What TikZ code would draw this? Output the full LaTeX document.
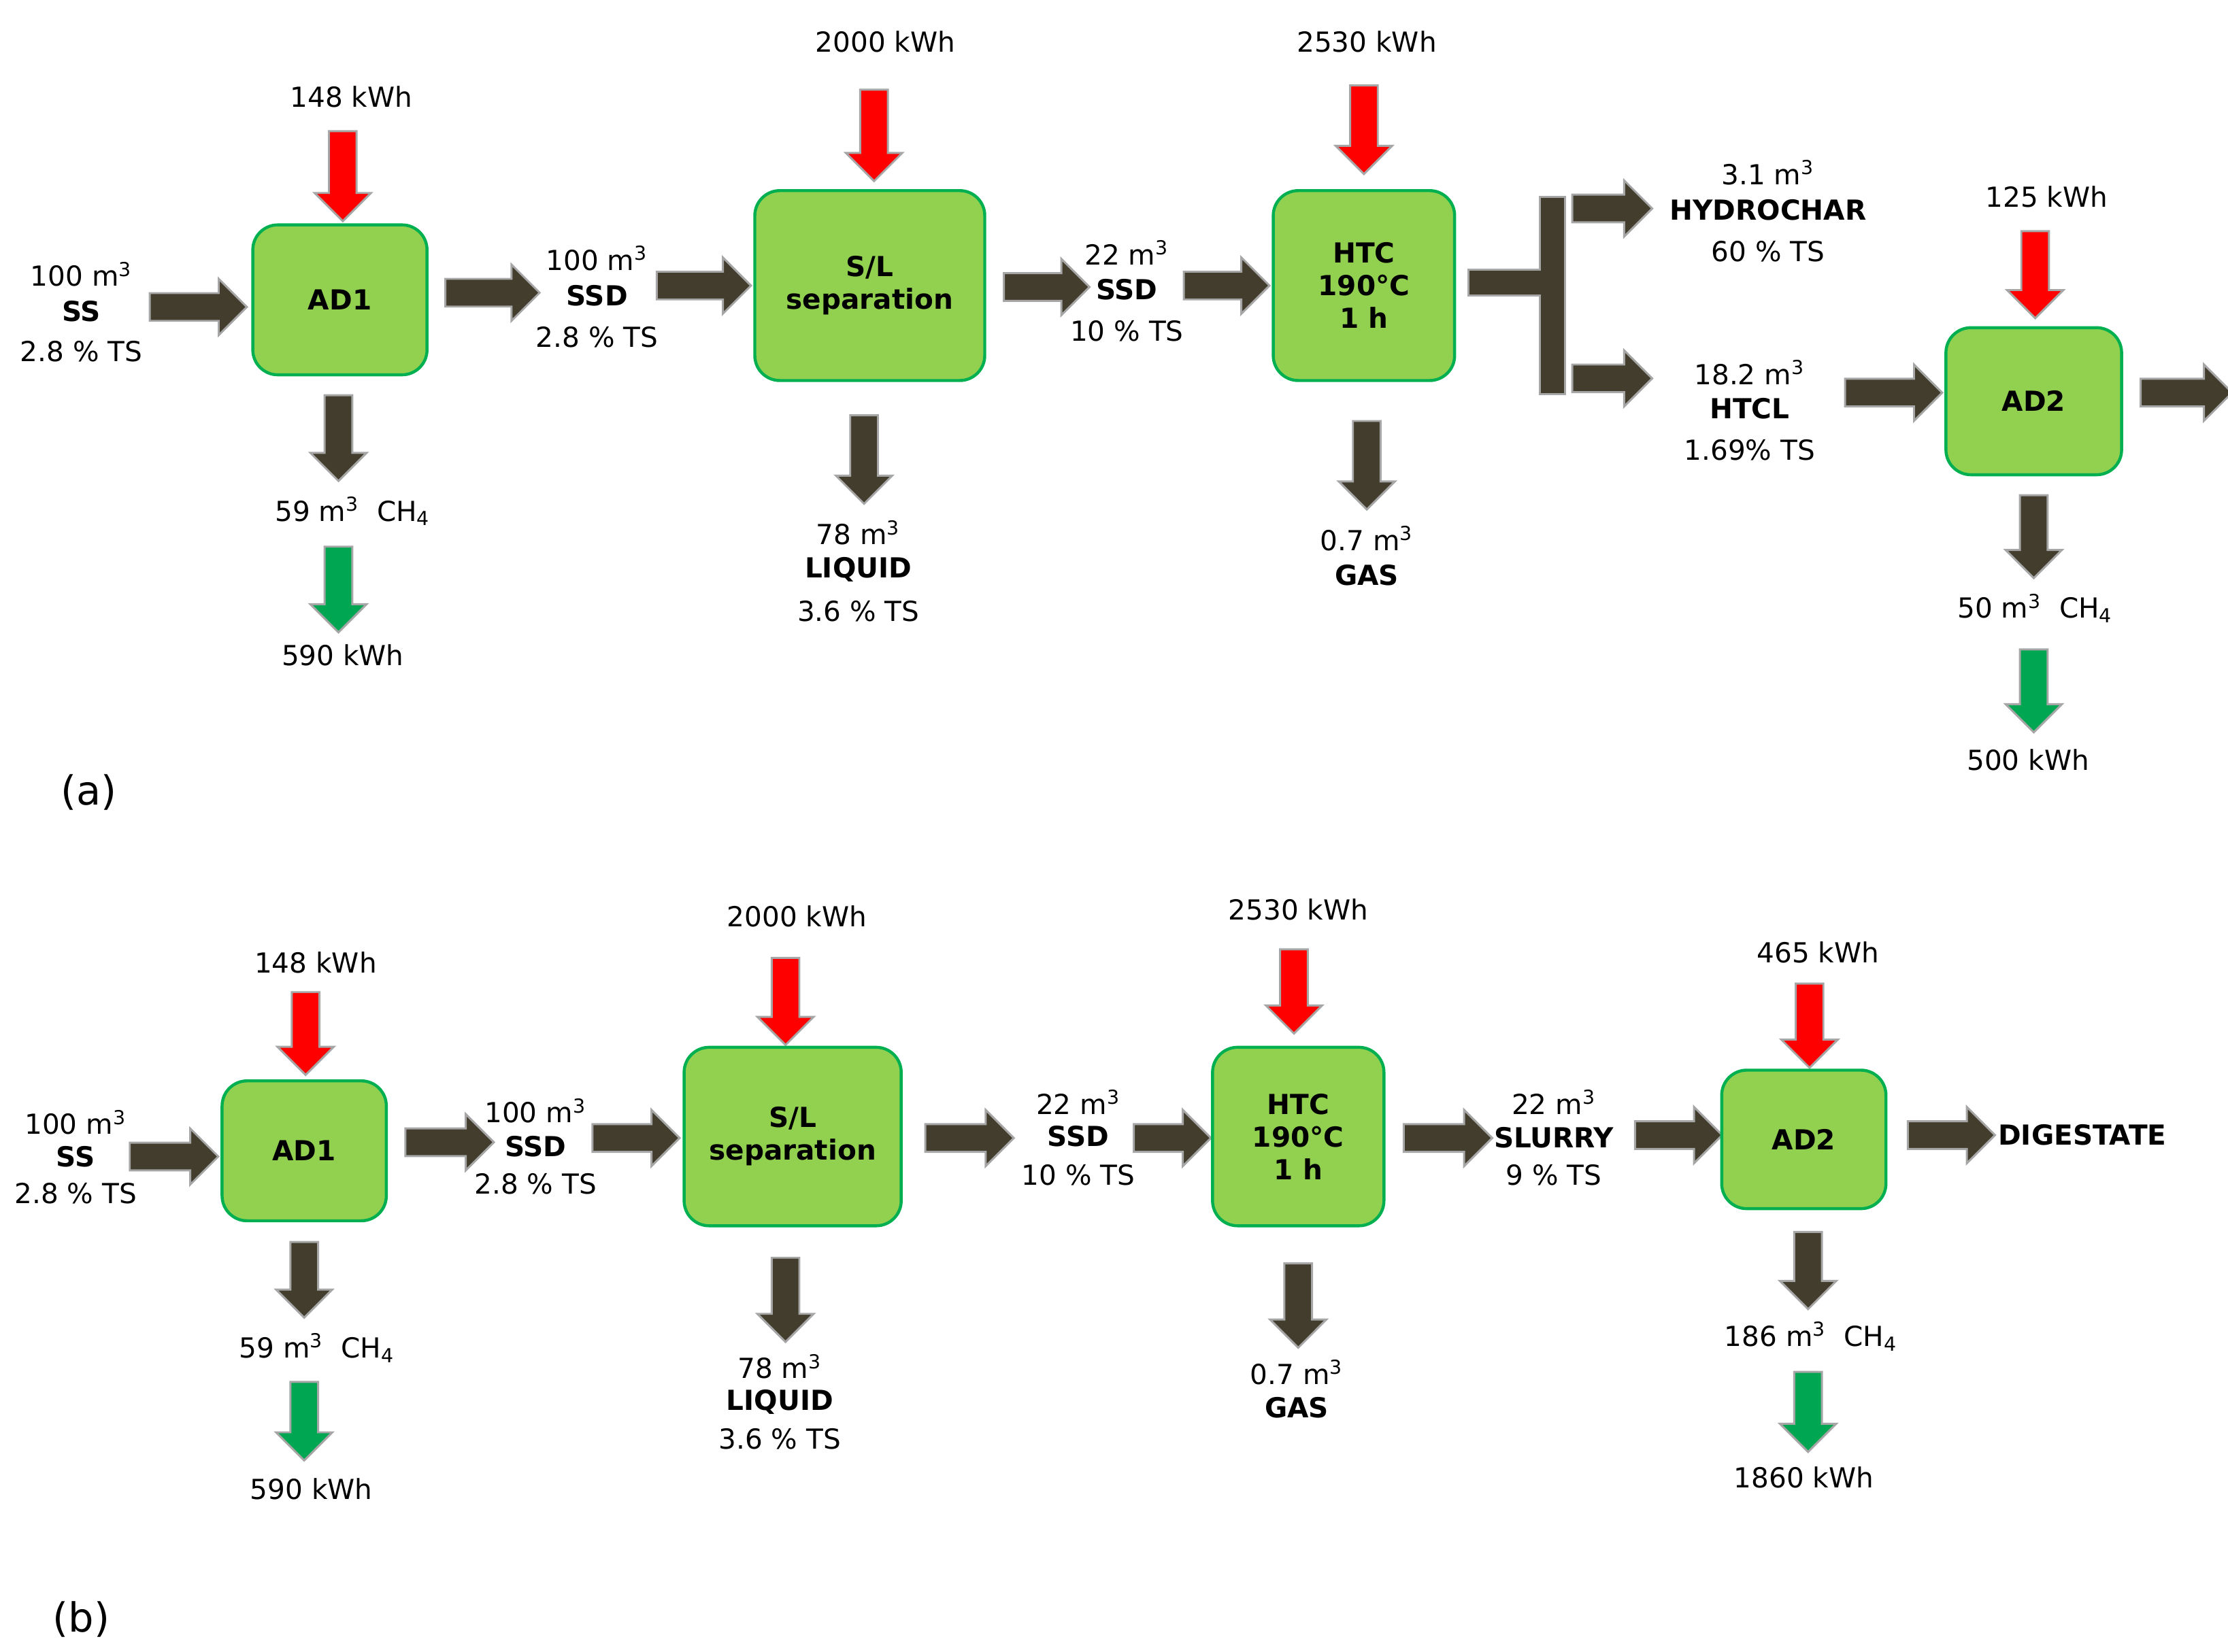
\documentclass[tikz,border=0pt]{standalone}
\usepackage{fontspec}
\setmainfont{DejaVu Sans}
\usetikzlibrary{shapes.arrows}
\definecolor{boxfill}{HTML}{92D050}
\definecolor{boxline}{HTML}{00B050}
\definecolor{dark}{HTML}{433D2E}
\definecolor{grn}{HTML}{00A651}
\tikzset{
 blk/.style={single arrow, draw=gray!70, line width=0.8pt, fill=dark, inner xsep=0pt, inner ysep=0.18cm, single arrow head extend=0.2cm, shape border uses incircle=false},
 red/.style={blk, fill=red},
 gr/.style={blk, fill=grn},
 box/.style={draw=boxline, line width=1.2pt, fill=boxfill, rounded corners=0.35cm, font=\bfseries\fontsize{11}{13}\selectfont, align=center, inner sep=0pt},
 lbl/.style={font=\fontsize{11}{13}\selectfont, inner sep=0pt, align=center},
 bl/.style={lbl, font=\bfseries\fontsize{11}{13}\selectfont},
 tag/.style={font=\fontsize{16}{18}\selectfont, inner sep=0pt},
}
\newcommand\harr[4][blk]{\node[#1, minimum height={(#3-#2)*0.02cm}] at ({(#2+#3)/2},#4) {};}
\newcommand\varr[4][blk]{\node[#1, rotate=-90, minimum height={(#4-#3)*0.02cm}] at (#2,{(#3+#4)/2}) {};}
\newcommand\bx[6]{\node[box, minimum width={#4*0.02cm}, minimum height={#5*0.02cm}] (#1) at (#2,#3) {#6};}
\newcommand\mc{m\textsuperscript{3}}
\begin{document}
\begin{tikzpicture}[x=0.02cm,y=-0.02cm]
\useasboundingbox (0,0) rectangle (1560,1157);
% ---------- (a)
\node[lbl] (a148) at (246,68) {148 kWh}; \varr[red]{240}{87}{150}
\node[lbl] (ass1) at (57,192) {100 \mc}; \node[bl] (ass2) at (57,218) {SS}; \node[lbl] (ass3) at (57,246) {2.8 \% TS};
\harr{100}{168}{215}
\bx{aad1}{238}{210}{122}{105}{AD1}
\varr{237}{272}{332}
\node[lbl] (ach1) at (247,358) {59 \mc\ \ CH\textsubscript{4}};
\varr[gr]{237}{378}{438}
\node[lbl] (ak1) at (240,459) {590 kWh};
\harr{307}{373}{205}
\node[lbl] (assd1) at (418,181) {100 \mc}; \node[bl] (assd2) at (418,207) {SSD}; \node[lbl] (assd3) at (418,236) {2.8 \% TS};
\harr{455}{521}{200}
\node[lbl] (a2000) at (620,29) {2000 kWh}; \varr[red]{612}{58}{122}
\bx{asl}{609}{200}{161}{133}{S/L\\separation}
\varr{605}{286}{348}
\node[lbl] (aliq1) at (601,373) {78 \mc}; \node[bl] (aliq2) at (601,399) {LIQUID}; \node[lbl] (aliq3) at (601,428) {3.6 \% TS};
\harr{698}{758}{201}
\node[lbl] (assdb1) at (789,177) {22 \mc}; \node[bl] (assdb2) at (789,203) {SSD}; \node[lbl] (assdb3) at (789,232) {10 \% TS};
\harr{824}{884}{200}
\node[lbl] (a2530) at (957,29) {2530 kWh}; \varr[red]{955}{55}{117}
\bx{ahtc}{955}{200}{127}{133}{HTC\\190°C\\1 h}
\varr{957}{290}{352}
\node[lbl] (agas1) at (957,377) {0.7 \mc}; \node[bl] (agas2) at (957,403) {GAS};
\fill[dark, draw=gray!70, line width=0.8pt] (1028,189) -- (1078,189) -- (1078,138) -- (1096,138) -- (1096,276) -- (1078,276) -- (1078,207) -- (1028,207) -- cycle;
\harr{1096}{1152}{146}
\harr{1096}{1152}{265}
\node[lbl] (ahc1) at (1238,121) {3.1 \mc}; \node[bl] (ahc2) at (1238,147) {HYDROCHAR}; \node[lbl] (ahc3) at (1238,176) {60 \% TS};
\node[lbl] (acl1) at (1225,261) {18.2 \mc}; \node[bl] (acl2) at (1225,286) {HTCL}; \node[lbl] (acl3) at (1225,315) {1.69\% TS};
\harr{1287}{1355}{275}
\node[lbl] (a125) at (1433,138) {125 kWh}; \varr[red]{1425}{157}{218}
\bx{aad2}{1424}{281}{123}{103}{AD2}
\harr{1494}{1558}{275}
\varr{1424}{342}{400}
\node[lbl] (ach2) at (1425,426) {50 \mc\ \ CH\textsubscript{4}};
\varr[gr]{1424}{450}{508}
\node[lbl] (ak2) at (1420,532) {500 kWh};
\node[tag] (ta) at (62,555) {(a)};
% ---------- (b)
\node[lbl] (b148) at (221,674) {148 kWh}; \varr[red]{214}{690}{748}
\node[lbl] (bss1) at (53,786) {100 \mc}; \node[bl] (bss2) at (53,810) {SS}; \node[lbl] (bss3) at (53,836) {2.8 \% TS};
\harr{86}{148}{810}
\bx{bad1}{213}{806}{115}{98}{AD1}
\varr{213}{865}{918}
\node[lbl] (bch1) at (222,944) {59 \mc\ \ CH\textsubscript{4}};
\varr[gr]{213}{963}{1018}
\node[lbl] (bk1) at (218,1043) {590 kWh};
\harr{279}{341}{800}
\node[lbl] (bssd1) at (375,778) {100 \mc}; \node[bl] (bssd2) at (375,803) {SSD}; \node[lbl] (bssd3) at (375,829) {2.8 \% TS};
\harr{410}{471}{797}
\node[lbl] (b2000) at (558,642) {2000 kWh}; \varr[red]{550}{666}{727}
\bx{bsl}{555}{796}{152}{125}{S/L\\separation}
\varr{550}{876}{935}
\node[lbl] (bliq1) at (546,957) {78 \mc}; \node[bl] (bliq2) at (546,982) {LIQUID}; \node[lbl] (bliq3) at (546,1008) {3.6 \% TS};
\harr{643}{705}{797}
\node[lbl] (bssdb1) at (755,772) {22 \mc}; \node[bl] (bssdb2) at (755,796) {SSD}; \node[lbl] (bssdb3) at (755,823) {10 \% TS};
\harr{789}{843}{797}
\node[lbl] (b2530) at (909,637) {2530 kWh}; \varr[red]{906}{660}{719}
\bx{bhtc}{909}{796}{120}{125}{HTC\\190°C\\1 h}
\varr{909}{880}{939}
\node[lbl] (bgas1) at (908,961) {0.7 \mc}; \node[bl] (bgas2) at (908,986) {GAS};
\harr{978}{1040}{797}
\node[lbl] (bsl1) at (1088,772) {22 \mc}; \node[bl] (bsl2) at (1088,797) {SLURRY}; \node[lbl] (bsl3) at (1088,823) {9 \% TS};
\harr{1140}{1201}{795}
\node[lbl] (b465) at (1273,667) {465 kWh}; \varr[red]{1267}{684}{743}
\bx{bad2}{1263}{798}{115}{97}{AD2}
\harr{1331}{1392}{795}
\node[bl] (bdig) at (1458,795) {DIGESTATE};
\varr{1266}{858}{912}
\node[lbl] (bch2) at (1268,936) {186 \mc\ \ CH\textsubscript{4}};
\varr[gr]{1266}{956}{1012}
\node[lbl] (bk2) at (1263,1035) {1860 kWh};
\node[tag] (tb) at (57,1134) {(b)};
\end{tikzpicture}
\end{document}
